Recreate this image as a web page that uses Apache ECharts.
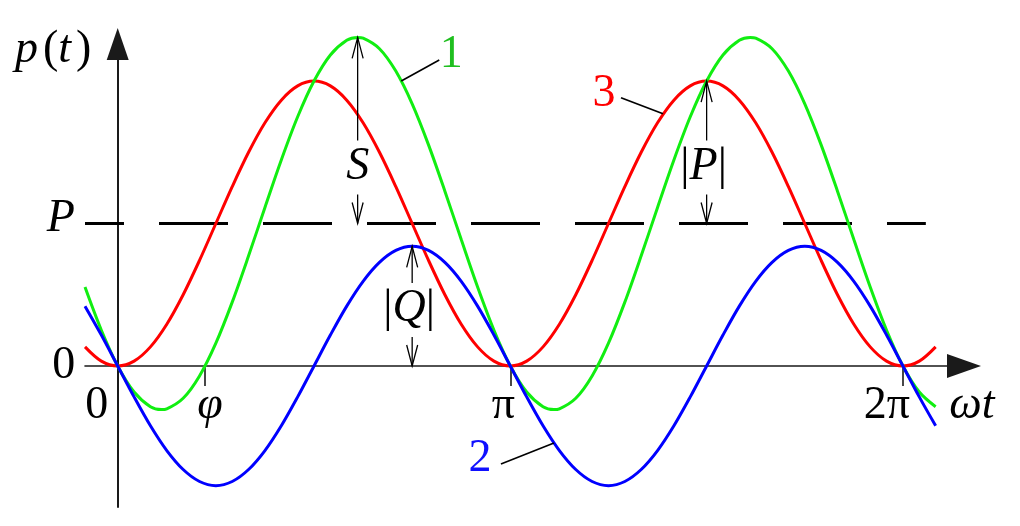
<!DOCTYPE html>
<html>
<head>
<meta charset="utf-8">
<script src="https://cdn.jsdelivr.net/npm/echarts@6/dist/echarts.min.js"></script>
<style>
html, body { margin: 0; padding: 0; background: #fff; }
#chart { width: 1020px; height: 526px; }
</style>
</head>
<body>
<div id="chart"></div>
<script>
// ωt in degrees (π = 180), read every 7.5°
var wt = [-15, -7.5, 0, 7.5, 15, 22.5, 30, 37.5, 45, 52.5, 60, 67.5, 75, 82.5, 90, 97.5,
  105, 112.5, 120, 127.5, 135, 142.5, 150, 157.5, 165, 172.5, 180, 187.5, 195, 202.5,
  210, 217.5, 225, 232.5, 240, 247.5, 255, 262.5, 270, 277.5, 285, 292.5, 300, 307.5,
  315, 322.5, 330, 337.5, 345, 352.5, 360, 367.5, 375];

// curve 3 (red), in units of P
var p3 = [0.134, 0.034,
  0, 0.034, 0.134, 0.293, 0.5, 0.741, 1, 1.259, 1.5, 1.707, 1.866, 1.966,
  2, 1.966, 1.866, 1.707, 1.5, 1.259, 1, 0.741, 0.5, 0.293, 0.134, 0.034,
  0, 0.034, 0.134, 0.293, 0.5, 0.741, 1, 1.259, 1.5, 1.707, 1.866, 1.966,
  2, 1.966, 1.866, 1.707, 1.5, 1.259, 1, 0.741, 0.5, 0.293, 0.134, 0.034,
  0, 0.034, 0.134];

// curve 2 (blue)
var q2 = [0.42, 0.217,
  0, -0.217, -0.42, -0.594, -0.727, -0.811, -0.84, -0.811, -0.727, -0.594, -0.42, -0.217,
  0, 0.217, 0.42, 0.594, 0.727, 0.811, 0.84, 0.811, 0.727, 0.594, 0.42, 0.217,
  0, -0.217, -0.42, -0.594, -0.727, -0.811, -0.84, -0.811, -0.727, -0.594, -0.42, -0.217,
  0, 0.217, 0.42, 0.594, 0.727, 0.811, 0.84, 0.811, 0.727, 0.594, 0.42, 0.217,
  0, -0.217, -0.42];

// curve 1 (green): same grid plus its own peaks and troughs (20°, 110°, 200°, 290°)
var wt1 = [-15, -7.5, 0, 7.5, 15, 20, 22.5, 30, 37.5, 45, 52.5, 60, 67.5, 75, 82.5, 90, 97.5,
  105, 110, 112.5, 120, 127.5, 135, 142.5, 150, 157.5, 165, 172.5, 180, 187.5, 195, 200, 202.5,
  210, 217.5, 225, 232.5, 240, 247.5, 255, 262.5, 270, 277.5, 285, 290, 292.5, 300, 307.5,
  315, 322.5, 330, 337.5, 345, 352.5, 360, 367.5, 375];
var p1 = [0.554, 0.251,
  0, -0.183, -0.286, -0.306, -0.301, -0.227, -0.07, 0.16, 0.448, 0.773, 1.113, 1.446, 1.749,
  2, 2.183, 2.286, 2.306, 2.301, 2.227, 2.07, 1.84, 1.552, 1.227, 0.887, 0.554, 0.251,
  0, -0.183, -0.286, -0.306, -0.301, -0.227, -0.07, 0.16, 0.448, 0.773, 1.113, 1.446, 1.749,
  2, 2.183, 2.286, 2.306, 2.301, 2.227, 2.07, 1.84, 1.552, 1.227, 0.887, 0.554, 0.251,
  0, -0.183, -0.286];

var pLevel = 1;
var pLineX = [-15, 370.5];

var xTickValues = [0, 40, 180, 360];
var xTickLabels = ['0', 'φ', 'π', '2π'];
var yTickValues = [0, 1];
var yTickLabels = ['0', 'P'];

// double arrows: x, top value, bottom value, label
var arrowX = [110, 135, 270];
var arrowTop = [2.306, 0.84, 2];
var arrowBase = [1, 0, 1];
var arrowNames = ['S', 'Q', 'P'];

// curve numbers and the point their leader touches
var curveNames = ['1', '3', '2'];
var curveX = [130, 250, 200];
var curveY = [2.0, 1.77, -0.54];

var chart = echarts.init(document.getElementById('chart'));
var serif = '"Liberation Serif", "Times New Roman", serif';
var fs = 46;

function pairs(xs, ys) {
  return xs.map(function (x, i) { return [x, ys[i]]; });
}

function curve(name, xs, ys, color) {
  return {
    name: name, type: 'line', data: pairs(xs, ys), smooth: 0.33, symbol: 'none',
    clip: false, lineStyle: {color: color, width: 3}
  };
}

chart.setOption({
  animation: false,
  grid: {left: 85, right: 56, top: 44, bottom: 19},
  xAxis: {
    type: 'value', min: -15, max: 388,
    splitLine: {show: false},
    axisLine: {show: true, onZero: true, symbol: ['none', 'triangle'], symbolSize: [24, 34],
      lineStyle: {color: '#1a1a1a', width: 1.6}},
    axisTick: {show: true, customValues: xTickValues.slice(1), length: 20, inside: false,
      lineStyle: {color: '#1a1a1a', width: 1.6}},
    axisLabel: {show: false}
  },
  yAxis: {
    type: 'value', min: -0.99, max: 2.26,
    splitLine: {show: false},
    axisLine: {show: true, onZero: true, symbol: ['none', 'triangle'], symbolSize: [22, 32],
      lineStyle: {color: '#1a1a1a', width: 2}},
    axisTick: {show: false},
    axisLabel: {show: false}
  },
  series: [
    {
      name: 'P', type: 'line', symbol: 'none', clip: false,
      data: [[pLineX[0], pLevel], [pLineX[1], pLevel]],
      lineStyle: {color: '#000', width: 3, type: [69, 35], dashOffset: 30}
    },
    curve('3', wt, p3, '#ff0000'),
    curve('1', wt1, p1, '#11ee11'),
    curve('2', wt, q2, '#0000ff')
  ]
});

function px(x, y) {
  return chart.convertToPixel({gridIndex: 0}, [x, y]);
}

var rich = {
  i: {fontFamily: serif, fontSize: fs, fontStyle: 'italic', fill: '#000'},
  n: {fontFamily: serif, fontSize: fs, fill: '#000'},
  s: {fontFamily: serif, fontSize: 20, fill: '#000'}
};

function text(str, x, y, color, align) {
  return {
    type: 'text', x: x, y: y, z: 50,
    style: {text: str, rich: rich, fontFamily: serif, fontSize: fs, fill: color || '#000',
      align: align || 'center', verticalAlign: 'middle'}
  };
}

function line(x1, y1, x2, y2, w) {
  return {type: 'line', z: 50, shape: {x1: x1, y1: y1, x2: x2, y2: y2},
    style: {stroke: '#000', lineWidth: w || 1.3}};
}

function head(x, y, dir) {
  return {type: 'polyline', z: 50,
    shape: {points: [[x - 5.5, y + dir * 21], [x, y], [x + 5.5, y + dir * 21]]},
    style: {stroke: '#000', lineWidth: 1.3, fill: null}};
}

var g = [];

// axis titles
g.push(text('{i|p}{s| }{n|(}{i|t}{s| }{n|)}', 15, 50, '#000', 'left'));
var xEnd = px(388, 0);
g.push(text('{i|ωt}', xEnd[0] + 8, xEnd[1] + 40));

// tick labels
var xdx = [-21, 5, -7, -16];
xTickValues.forEach(function (v, i) {
  var p = px(v, 0);
  var s = xTickLabels[i] === 'φ' ? '{i|φ}' : '{n|' + xTickLabels[i] + '}';
  g.push(text(s, p[0] + xdx[i], p[1] + 40));
});
var ydx = [-54, -57];
var ydy = [0, -5];
yTickValues.forEach(function (v, i) {
  var p = px(0, v);
  var s = yTickLabels[i] === 'P' ? '{i|P}' : '{n|' + yTickLabels[i] + '}';
  g.push(text(s, p[0] + ydx[i], p[1] + ydy[i]));
});

// double arrows with labels
arrowX.forEach(function (v, i) {
  var t = px(v, arrowTop[i]);
  var b = px(v, arrowBase[i]);
  var ly = b[1] - 57;
  g.push(line(t[0], t[1], t[0], ly - 26));
  g.push(head(t[0], t[1], 1));
  g.push(line(b[0], ly + 28, b[0], b[1]));
  g.push(head(b[0], b[1], -1));
  var s = arrowNames[i] === 'S' ? '{i|S}' : '{n||}{i|' + arrowNames[i] + '}{n||}';
  var lx = arrowNames[i] === 'S' ? t[0] : t[0] - 3;
  g.push(text(s, lx, ly));
});

// curve numbers with leaders
var leadDx = [38, -42, -53], leadDy = [-21, -16, 21];
var labDx = [50, -59, -74], labDy = [-26, -20, 16];
var labColor = ['#1fbf1f', '#ff0000', '#1010ff'];
curveNames.forEach(function (n, i) {
  var p = px(curveX[i], curveY[i]);
  g.push(line(p[0], p[1], p[0] + leadDx[i], p[1] + leadDy[i], 1.6));
  rich['c' + i] = {fontFamily: serif, fontSize: fs, fill: labColor[i]};
  g.push(text('{c' + i + '|' + n + '}', p[0] + labDx[i], p[1] + labDy[i]));
});

chart.setOption({graphic: {elements: g}});
</script>
</body>
</html>
